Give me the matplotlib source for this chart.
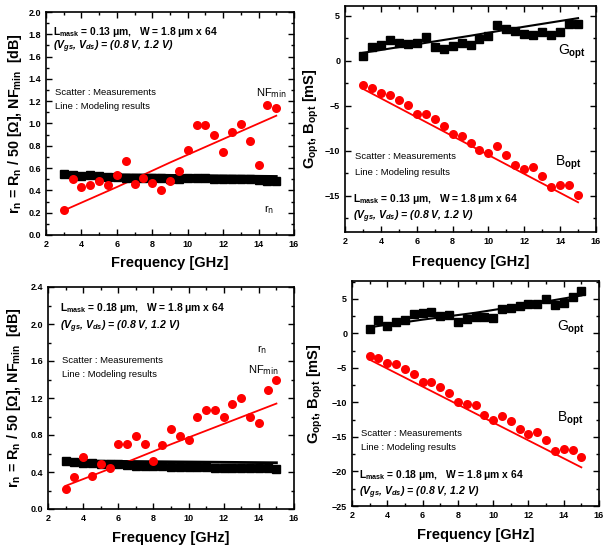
import numpy as np
import matplotlib
matplotlib.use("Agg")
import matplotlib.pyplot as plt
from matplotlib.ticker import MultipleLocator, FormatStrFormatter

plt.rcParams['font.family'] = ['Liberation Sans', 'DejaVu Sans']
plt.rcParams['mathtext.fontset'] = 'custom'
plt.rcParams['mathtext.rm'] = 'Liberation Sans:bold'
plt.rcParams['mathtext.it'] = 'Liberation Sans:italic:bold'
plt.rcParams['mathtext.bf'] = 'Liberation Sans:bold'

freq = [3, 3.5, 4, 4.5, 5, 5.5, 6, 6.5, 7, 7.5, 8, 8.5, 9, 9.5, 10,
        10.5, 11, 11.5, 12, 12.5, 13, 13.5, 14, 14.5, 15]
model_freq = [3, 6, 9, 12, 15]

# 0.13 um device
nf_013 = [0.22, 0.50, 0.43, 0.45, 0.48, 0.45, 0.54, 0.66, 0.46, 0.51, 0.47, 0.40, 0.48,
          0.57, 0.76, 0.99, 0.99, 0.90, 0.74, 0.92, 1.00, 0.84, 0.63, 1.17, 1.14]
rn_013 = [0.55, 0.54, 0.53, 0.54, 0.53, 0.52, 0.52, 0.51, 0.51, 0.51, 0.51, 0.51, 0.50,
          0.50, 0.51, 0.51, 0.51, 0.50, 0.50, 0.50, 0.50, 0.50, 0.49, 0.48, 0.48]
nf_013_model = [0.22, 0.43, 0.65, 0.86, 1.07]
rn_013_model = [0.55, 0.54, 0.535, 0.53, 0.525]
gopt_013 = [0.52, 1.56, 1.8, 2.3, 2.0, 1.9, 2.0, 2.7, 1.55, 1.3, 1.67, 2.0, 1.8,
            2.45, 2.8, 4.0, 3.5, 3.3, 3.0, 2.9, 3.2, 2.9, 3.2, 4.1, 4.15]
bopt_013 = [-2.65, -3.0, -3.6, -3.8, -4.3, -4.95, -5.9, -5.95, -6.5, -7.2, -8.1, -8.3, -9.1,
            -9.85, -10.25, -9.5, -10.5, -11.6, -12.0, -11.8, -12.8, -14.05, -13.8, -13.8, -14.85]
gopt_013_model = [0.9, 1.85, 2.8, 3.8, 4.75]
bopt_013_model = [-3.1, -6.25, -9.4, -12.55, -15.7]

# 0.18 um device
nf_018 = [0.22, 0.35, 0.56, 0.36, 0.49, 0.44, 0.70, 0.70, 0.79, 0.70, 0.52, 0.69, 0.86,
          0.79, 0.75, 1.00, 1.07, 1.07, 0.99, 1.13, 1.20, 0.99, 0.93, 1.29, 1.39]
rn_018 = [0.52, 0.51, 0.50, 0.50, 0.49, 0.49, 0.49, 0.48, 0.46, 0.47, 0.46, 0.46, 0.45,
          0.45, 0.45, 0.45, 0.45, 0.44, 0.44, 0.44, 0.44, 0.44, 0.44, 0.44, 0.43]
nf_018_model = [0.25, 0.47, 0.70, 0.92, 1.14]
rn_018_model = [0.52, 0.515, 0.51, 0.505, 0.50]
gopt_018 = [0.7, 1.9, 1.1, 1.7, 2.0, 2.75, 2.95, 3.15, 2.55, 2.65, 1.65, 2.1, 2.45,
            2.45, 2.25, 3.6, 3.75, 3.95, 4.3, 4.3, 4.95, 4.1, 4.45, 5.25, 6.2]
bopt_018 = [-3.2, -3.6, -4.35, -4.4, -5.15, -5.85, -7.05, -7.05, -7.8, -8.6, -9.9, -10.2, -10.35,
            -11.75, -12.55, -11.9, -12.7, -13.85, -14.6, -14.3, -15.5, -17.1, -16.8, -16.9, -17.9]
gopt_018_model = [0.9, 2.0, 3.0, 4.2, 5.5]
bopt_018_model = [-3.8, -7.7, -11.6, -15.5, -19.4]

fig = plt.figure(figsize=(6.05, 5.49), dpi=100)
W, H = 605.0, 549.0


def make_ax(left, top, right, bottom):
    return fig.add_axes([left / W, 1 - bottom / H, (right - left) / W, (bottom - top) / H])


def style(ax, ymaj, ymin):
    ax.set_xlim(2, 16)
    ax.xaxis.set_major_locator(MultipleLocator(2))
    ax.xaxis.set_minor_locator(MultipleLocator(1))
    ax.yaxis.set_major_locator(MultipleLocator(ymaj))
    ax.yaxis.set_minor_locator(MultipleLocator(ymin))
    ax.tick_params(which='both', direction='in', top=True, right=True, width=1, labelsize=6.5)
    ax.tick_params(which='major', length=4)
    ax.tick_params(which='minor', length=2)
    for lab in ax.get_xticklabels() + ax.get_yticklabels():
        lab.set_fontweight('bold')
    for s in ax.spines.values():
        s.set_linewidth(1.2)
    ax.set_xlabel('Frequency [GHz]', fontsize=10.5, fontweight='bold')


def notes(ax, x, y_l, y_v, y_s, y_m, tech):
    ax.text(x, y_l, r'L$_{\mathrm{mask}}$ = ' + tech + ' μm,   W = 1.8 μm x 64',
            transform=ax.transAxes, fontsize=7.4, fontweight='bold', va='center')
    ax.text(x, y_v, r'(V$_{gs}$, V$_{ds}$) = (0.8 V, 1.2 V)', transform=ax.transAxes,
            fontsize=7.6, fontweight='bold', style='italic', va='center')
    ax.text(x + 0.008, y_s, 'Scatter : Measurements', transform=ax.transAxes, fontsize=6.8, va='center')
    ax.text(x + 0.008, y_m, 'Line : Modeling results', transform=ax.transAxes, fontsize=6.8, va='center')


noise_label = r'r$_\mathrm{n}$ = R$_\mathrm{n}$ / 50 [Ω], NF$_\mathrm{min}$  [dB]'
adm_label = r'G$_\mathrm{opt}$, B$_\mathrm{opt}$ [mS]'

# top left
ax1 = make_ax(46, 12, 294, 235)
ax1.plot(model_freq, rn_013_model, color='black', lw=2)
ax1.plot(model_freq, nf_013_model, color='red', lw=1.3)
ax1.plot(freq, rn_013, 's', color='black', ms=5.5)
ax1.plot(freq, nf_013, 'o', color='red', ms=6.5, mec='none')
ax1.set_ylim(0, 2.0)
style(ax1, 0.2, 0.1)
ax1.yaxis.set_major_formatter(FormatStrFormatter('%.1f'))
ax1.set_ylabel(noise_label, fontsize=10.3, fontweight='bold')
ax1.yaxis.set_label_coords(-0.09, 0.5)
ax1.xaxis.set_label_coords(0.5, -0.095)
notes(ax1, 0.028, 0.91, 0.843, 0.637, 0.574, '0.13')
ax1.text(0.845, 0.637, r'NF$_\mathrm{min}$', transform=ax1.transAxes, fontsize=8, va='center',
         math_fontfamily='dejavusans')
ax1.text(0.88, 0.112, r'r$_\mathrm{n}$', transform=ax1.transAxes, fontsize=8, va='center',
         math_fontfamily='dejavusans')

# top right
ax2 = make_ax(345, 6, 596, 232)
ax2.plot(model_freq, gopt_013_model, color='black', lw=1.5)
ax2.plot(model_freq, bopt_013_model, color='red', lw=1.3)
ax2.plot(freq, gopt_013, 's', color='black', ms=5.5)
ax2.plot(freq, bopt_013, 'o', color='red', ms=6.5, mec='none')
ax2.set_ylim(-19, 6.1)
style(ax2, 5, 2.5)
ax2.set_ylabel(adm_label, fontsize=10.5, fontweight='bold')
ax2.yaxis.set_label_coords(-0.095, 0.5)
ax2.xaxis.set_label_coords(0.5, -0.1)
notes(ax2, 0.03, 0.146, 0.066, 0.332, 0.265, '0.13')
ax2.text(0.85, 0.796, r'G$_\mathrm{opt}$', transform=ax2.transAxes, fontsize=10, va='center')
ax2.text(0.838, 0.305, r'B$_\mathrm{opt}$', transform=ax2.transAxes, fontsize=10, va='center')

# bottom left
ax3 = make_ax(48, 287, 294, 509)
ax3.plot(model_freq, rn_018_model, color='black', lw=2)
ax3.plot(model_freq, nf_018_model, color='red', lw=1.3)
ax3.plot(freq, rn_018, 's', color='black', ms=5.5)
ax3.plot(freq, nf_018, 'o', color='red', ms=6.5, mec='none')
ax3.set_ylim(0, 2.4)
style(ax3, 0.4, 0.2)
ax3.yaxis.set_major_formatter(FormatStrFormatter('%.1f'))
ax3.set_ylabel(noise_label, fontsize=10.3, fontweight='bold')
ax3.yaxis.set_label_coords(-0.1, 0.5)
ax3.xaxis.set_label_coords(0.5, -0.1)
notes(ax3, 0.049, 0.905, 0.82, 0.667, 0.608, '0.18')
ax3.text(0.813, 0.626, r'NF$_\mathrm{min}$', transform=ax3.transAxes, fontsize=8, va='center',
         math_fontfamily='dejavusans')
ax3.text(0.85, 0.716, r'r$_\mathrm{n}$', transform=ax3.transAxes, fontsize=8, va='center',
         math_fontfamily='dejavusans')

# bottom right
ax4 = make_ax(352, 281, 599, 506)
ax4.plot(model_freq, gopt_018_model, color='black', lw=1.5)
ax4.plot(model_freq, bopt_018_model, color='red', lw=1.3)
ax4.plot(freq, gopt_018, 's', color='black', ms=5.5)
ax4.plot(freq, bopt_018, 'o', color='red', ms=6.5, mec='none')
ax4.set_ylim(-25, 7.6)
style(ax4, 5, 2.5)
ax4.set_ylabel(adm_label, fontsize=10.5, fontweight='bold')
ax4.yaxis.set_label_coords(-0.11, 0.5)
ax4.xaxis.set_label_coords(0.5, -0.1)
notes(ax4, 0.03, 0.138, 0.058, 0.32, 0.258, '0.18')
ax4.text(0.83, 0.791, r'G$_\mathrm{opt}$', transform=ax4.transAxes, fontsize=10, va='center')
ax4.text(0.83, 0.387, r'B$_\mathrm{opt}$', transform=ax4.transAxes, fontsize=10, va='center')

fig.savefig('out.png', dpi=100)
